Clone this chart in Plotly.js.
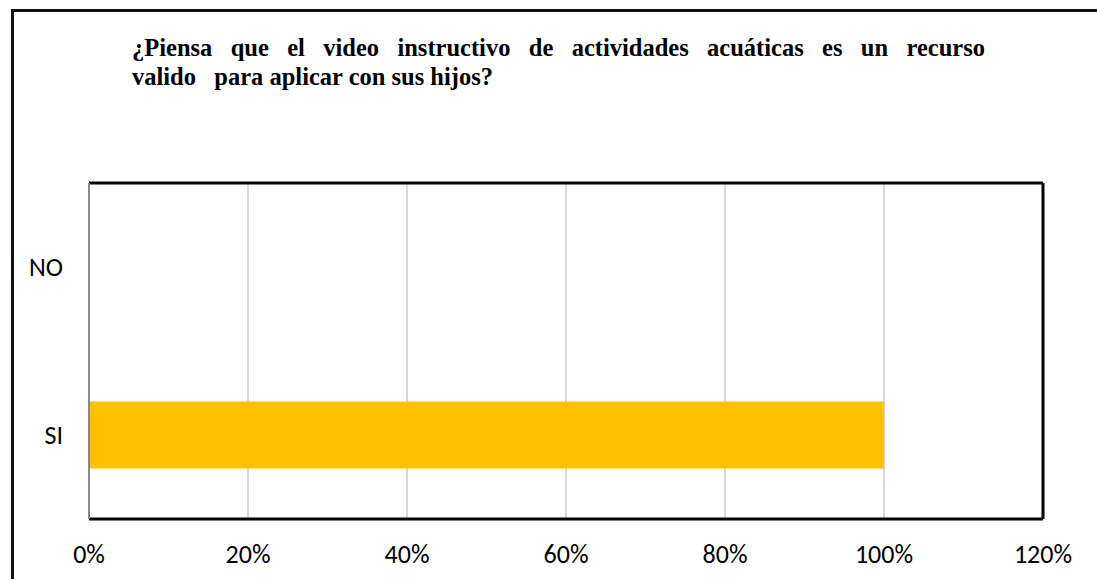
<!DOCTYPE html>
<html>
<head>
<meta charset="utf-8">
<script src="https://cdn.plot.ly/plotly-3.0.1.min.js"></script>
<style>
  html, body { margin: 0; padding: 0; background: #fff; }
  #wrap { position: relative; width: 1097px; height: 579px; overflow: hidden; }
  #chart { width: 1097px; height: 579px; }
  #frame { position: absolute; left: 11px; top: 9px; right: -10px; bottom: -10px;
           border-left: 3px solid #111; border-top: 3px solid #111; pointer-events: none; }
</style>
</head>
<body>
<div id="wrap">
  <div id="chart"></div>
  <div id="frame"></div>
</div>
<script>
const categories = ['SI', 'NO'];
const values = [1.00, 0.00];
const xTickValues = [0, 0.2, 0.4, 0.6, 0.8, 1.0, 1.2];
const xTickLabels = ['0%', '20%', '40%', '60%', '80%', '100%', '120%'];
const titleLine1 = ['¿Piensa', 'que', 'el', 'video', 'instructivo', 'de', 'actividades', 'acuáticas', 'es', 'un', 'recurso'];
const titleLine2 = ['valido', 'para aplicar con sus hijos?'];

const gap = '\u00a0\u00a0\u00a0';
const titleFont = { family: '"Liberation Serif", "Times New Roman", serif', size: 24.5, color: '#000' };
const tickFont = { family: 'Carlito, Lato, "Liberation Sans", sans-serif', size: 26, color: '#000' };

const trace = {
  type: 'bar',
  orientation: 'h',
  y: categories,
  x: values,
  marker: { color: '#FFC000' },
  hoverinfo: 'x+y'
};

const layout = {
  width: 1097,
  height: 579,
  margin: { l: 89, r: 54, t: 183, b: 60 },
  paper_bgcolor: '#fff',
  plot_bgcolor: '#fff',
  showlegend: false,
  bargap: 0.6,
  xaxis: {
    range: [0, 1.2],
    tickvals: xTickValues,
    ticktext: xTickLabels,
    showgrid: true,
    gridcolor: '#d9d9d9',
    gridwidth: 1.5,
    zeroline: false,
    showline: false,
    ticks: '',
    ticklabelstandoff: 17,
    tickfont: tickFont,
    fixedrange: true
  },
  yaxis: {
    type: 'category',
    showgrid: false,
    zeroline: false,
    showline: false,
    ticks: '',
    ticklabelstandoff: 25,
    tickfont: tickFont,
    fixedrange: true
  },
  shapes: [
    { type: 'line', xref: 'paper', yref: 'paper', x0: 0, x1: 1, y0: 1, y1: 1, line: { color: '#000', width: 3 } },
    { type: 'line', xref: 'paper', yref: 'paper', x0: 1, x1: 1, y0: 0, y1: 1, line: { color: '#000', width: 3 } },
    { type: 'line', xref: 'paper', yref: 'paper', x0: 0, x1: 1, y0: 0, y1: 0, line: { color: '#000', width: 3 } },
    { type: 'line', xref: 'paper', yref: 'paper', x0: 0, x1: 0, y0: 0, y1: 1, line: { color: '#888', width: 2 } }
  ],
  annotations: [
    {
      text: '<b>' + titleLine1.join(gap) + '</b>',
      xref: 'paper', yref: 'paper',
      x: 0.043, y: 1.448,
      xanchor: 'left', yanchor: 'top',
      align: 'left',
      showarrow: false,
      font: titleFont
    },
    {
      text: '<b>' + titleLine2.join(gap) + '</b>',
      xref: 'paper', yref: 'paper',
      x: 0.043, y: 1.364,
      xanchor: 'left', yanchor: 'top',
      align: 'left',
      showarrow: false,
      font: titleFont
    }
  ]
};

Plotly.newPlot('chart', [trace], layout, { displayModeBar: false, staticPlot: true });
</script>
</body>
</html>
